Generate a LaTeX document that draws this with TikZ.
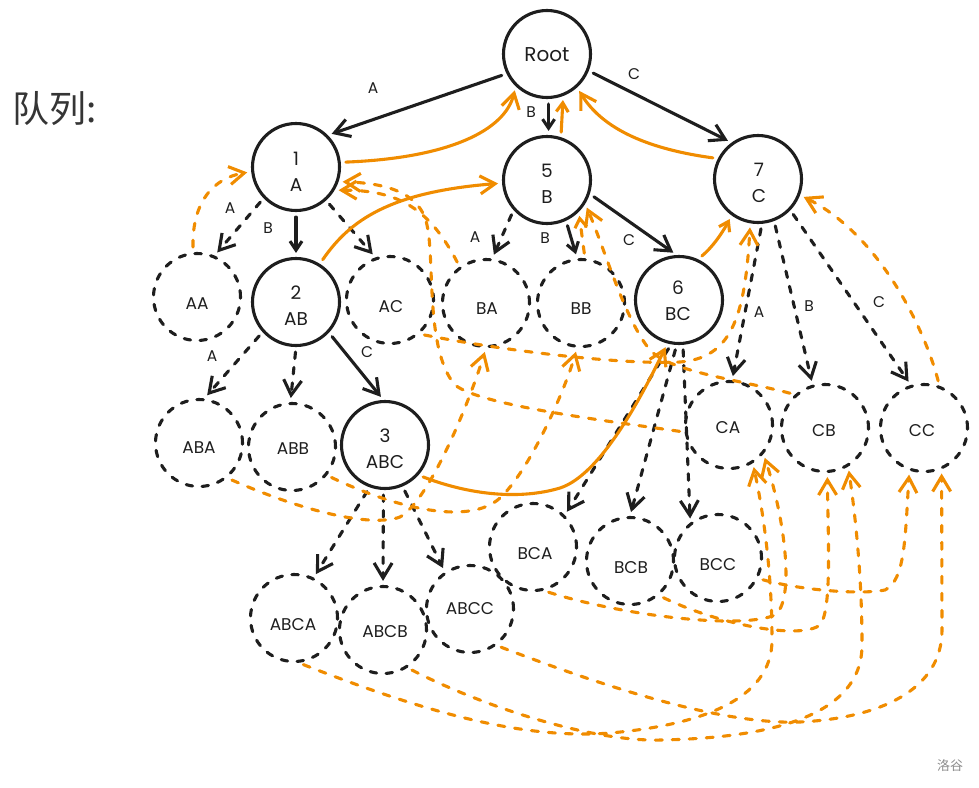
\documentclass[tikz,border=0pt]{standalone}
\usepackage{fontspec}
\setmainfont{Poppins}
\newfontfamily\cjk{Noto Sans CJK SC}
\usetikzlibrary{arrows.meta}
\definecolor{ink}{HTML}{1E1E1E}
\definecolor{orng}{HTML}{F08C00}
\begin{document}
\begin{tikzpicture}[x=1pt,y=-1pt,
  base/.style={circle, minimum size=87pt, inner sep=0pt, line width=3.1pt, draw=ink},
  real/.style={base},
  virt/.style={base, line cap=round, dash pattern=on 6.5pt off 9.5pt},
  ntext/.style={font=\fontsize{18.5}{26}\selectfont, text=ink, align=center},
  vtext/.style={font=\fontsize{17}{20}\selectfont, text=ink},
  elbl/.style={font=\fontsize{15.5}{18}\selectfont, text=ink},
  tip/.style={-{Straight Barb[length=15pt,width=18pt]}},
  stip/.style={-{Straight Barb[length=9pt,width=12pt]}},
  blk/.style={draw=ink, line width=3.1pt, line cap=round, line join=round, shorten <=5pt, shorten >=4pt},
  blkd/.style={blk, dash pattern=on 6.5pt off 9pt},
  org/.style={draw=orng, line width=3.1pt, line cap=round, line join=round, shorten <=5pt, shorten >=4pt},
  orgd/.style={org, dash pattern=on 7pt off 10pt},
]
\useasboundingbox (0,0) rectangle (979,787);

% title and watermark
\node[anchor=west, font=\cjk\fontsize{37}{40}\selectfont, text=ink!90] (title) at (9,109) {队列:};
\node[font=\cjk\fontsize{13}{15}\selectfont, text=black!45] (wm) at (950,766) {洛谷};

% real nodes
\node[real] (root) at (547,54) {};
\node[ntext, font=\fontsize{20}{24}\selectfont] (troot) at (547,55) {Root};
\node[real] (n1) at (296,167) {};
\node[ntext] (t1) at (296,172) {1\\A};
\node[real] (n5) at (547,180) {};
\node[ntext] (t5) at (547,184) {5\\B};
\node[real] (n7) at (758,179) {};
\node[ntext] (t7) at (759,183) {7\\C};
\node[real] (n2) at (296,302) {};
\node[ntext] (t2) at (296,306) {2\\AB};
\node[real] (n6) at (679,300) {};
\node[ntext] (t6) at (678,301) {6\\BC};
\node[real] (n3) at (385,445) {};
\node[ntext] (t3) at (385,449) {3\\ABC};

% virtual nodes
\node[virt] (AA) at (197,297) {};
\node[vtext] (tAA) at (197,304) {AA};
\node[virt] (AC) at (390,300) {};
\node[vtext] (tAC) at (391,307) {AC};
\node[virt] (BA) at (486,303) {};
\node[vtext] (tBA) at (487,309) {BA};
\node[virt] (BB) at (581,303) {};
\node[vtext] (tBB) at (581,309) {BB};
\node[virt] (ABA) at (199,443) {};
\node[vtext] (tABA) at (199,448) {ABA};
\node[virt] (ABB) at (292,447) {};
\node[vtext] (tABB) at (293,449) {ABB};
\node[virt] (CA) at (729,425) {};
\node[vtext] (tCA) at (728,428) {CA};
\node[virt] (CB) at (825,428) {};
\node[vtext] (tCB) at (824,431) {CB};
\node[virt] (CC) at (924,428) {};
\node[vtext] (tCC) at (922,431) {CC};
\node[virt] (BCA) at (533,547) {};
\node[vtext] (tBCA) at (535,554) {BCA};
\node[virt] (BCB) at (630,561) {};
\node[vtext] (tBCB) at (631,568) {BCB};
\node[virt] (BCC) at (718,558) {};
\node[vtext] (tBCC) at (718,565) {BCC};
\node[virt] (ABCA) at (294,618) {};
\node[vtext] (tABCA) at (293,625) {ABCA};
\node[virt] (ABCB) at (383,630) {};
\node[vtext] (tABCB) at (385,632) {ABCB};
\node[virt] (ABCC) at (470,609) {};
\node[vtext] (tABCC) at (470,609) {ABCC};

% black trie edges
\draw[blk,tip] (root.-154) -- (n1.45);
\draw[blk,stip] (root.-88) -- (n5.88);
\draw[blk,tip] (root.-22) -- (n7.126);
\draw[blkd,tip] (n1.-136) -- (AA.67);
\draw[blk,stip] (n1.-90) -- (n2.90);
\draw[blkd,tip] (n1.-48) -- (AC.109);
\draw[blkd,tip] (n5.-138) -- (BA.82);
\draw[blk,stip] (n5.-65) -- (BB.95);
\draw[blk,tip] (n5.-18) -- (n6.93);
\draw[blkd,tip] (n7.-85) -- (CA.86);
\draw[blkd,tip] (n7.-69) -- (CB.106);
\draw[blkd,tip] (n7.-44) -- (CC.107);
\draw[blkd,tip] (n2.-138) -- (ABA.83);
\draw[blkd,tip] (n2.-90) -- (ABB.92);
\draw[blk,tip] (n2.-43) -- (n3.92);
\draw[blkd,tip] (n3.-110) -- (ABCA.64);
\draw[blkd,tip] (n3.-92) -- (ABCB.90);
\draw[blkd,tip] (n3.-67) -- (ABCC.124);
\draw[blkd,tip] (n6.-100) -- (BCA.45);
\draw[blkd,tip] (n6.-93) -- (BCB.90);
\draw[blkd,tip] (n6.-85) -- (BCC.128);

% edge labels
\node[elbl] (l1) at (373,88) {A};
\node[elbl] (l2) at (531,112) {B};
\node[elbl] (l3) at (634,74) {C};
\node[elbl] (l4) at (230,208) {A};
\node[elbl] (l5) at (268,228) {B};
\node[elbl] (l6) at (475,237) {A};
\node[elbl] (l7) at (545,238) {B};
\node[elbl] (l8) at (629,240) {C};
\node[elbl] (l9) at (212,356) {A};
\node[elbl] (l10) at (367,352) {C};
\node[elbl] (l11) at (759,312) {A};
\node[elbl] (l12) at (809,306) {B};
\node[elbl] (l13) at (879,302) {C};

% orange solid fail links
\draw[org,tip] (n1.6) .. controls (450,158) and (505,130) .. (root.226);
\draw[org,stip] (n5.72) -- (root.-69);
\draw[org,tip] (n7.153) .. controls (640,148) and (600,125) .. (root.-48);
\draw[org,tip] (n2.58) .. controls (350,220) and (390,192) .. (n5.184);
\draw[org,stip] (n6.65) .. controls (715,245) and (725,228) .. (n7.-126);
\draw[org,tip] (n3.-42) .. controls (470,495) and (520,500) .. (560,488) .. controls (600,475) and (640,400) .. (n6.-105);

% orange dashed links of virtual nodes
\draw[orgd,tip] (AA.95) .. controls (192,200) and (215,178) .. (n1.186);
\draw[orgd,tip] (AC.-49) .. controls (500,350) and (620,365) .. (680,362) .. controls (730,358) and (745,320) .. (n7.-100);
\draw[orgd,tip] (BA.126) .. controls (430,210) and (400,190) .. (n1.-31);
\draw[orgd,stip] (BB.85) -- (n5.-45);
\draw[orgd,tip] (CA.189) .. controls (600,420) and (480,405) .. (455,385) .. controls (425,350) and (435,260) .. (427,225) .. controls (420,190) and (380,183) .. (n1.-19);
\draw[orgd,tip] (CB.132) .. controls (740,380) and (670,372) .. (650,350) .. controls (625,320) and (605,250) .. (n5.-32);
\draw[orgd,tip] (CC.70) .. controls (925,330) and (880,235) .. (n7.-21);
\draw[orgd,tip] (ABA.-51) .. controls (300,510) and (370,528) .. (400,517) .. controls (430,500) and (470,400) .. (BA.-90);
\draw[orgd,tip] (ABB.-39) .. controls (400,510) and (470,525) .. (500,498) .. controls (530,470) and (565,390) .. (BB.-95);
\draw[orgd,tip] (ABCA.-84) .. controls (420,710) and (520,740) .. (610,733) .. controls (700,725) and (772,700) .. (772,640) .. controls (772,580) and (765,520) .. (CA.-58);
\draw[orgd,tip] (ABCB.-57) .. controls (480,705) and (590,742) .. (661,740) .. controls (760,738) and (862,720) .. (862,645) .. controls (862,580) and (856,520) .. (CB.-59);
\draw[orgd,tip] (ABCC.-54) .. controls (600,685) and (720,725) .. (800,722) .. controls (880,718) and (942,690) .. (942,630) -- (CC.-67);
\draw[orgd,tip] (BCA.-76) .. controls (620,615) and (740,630) .. (775,615) .. controls (795,600) and (785,520) .. (CA.-40);
\draw[orgd,tip] (BCB.-50) .. controls (720,625) and (800,640) .. (820,625) .. controls (832,610) and (828,540) .. (CB.-87);
\draw[orgd,tip] (BCC.-27) .. controls (800,590) and (860,595) .. (885,590) .. controls (905,580) and (905,540) .. (CC.-109);
\end{tikzpicture}
\end{document}
